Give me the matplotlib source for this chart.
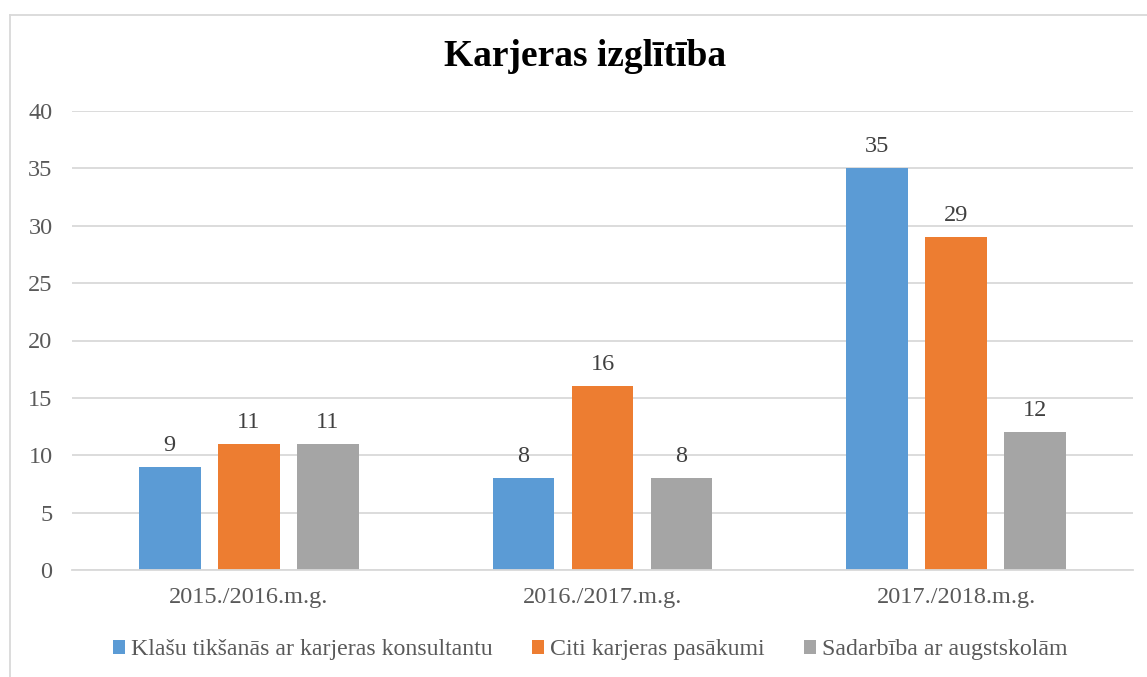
import matplotlib
matplotlib.use("Agg")
import matplotlib.pyplot as plt
from matplotlib.lines import Line2D
from matplotlib.patches import Patch
import numpy as np

categories = ["2015./2016.m.g.", "2016./2017.m.g.", "2017./2018.m.g."]
series_names = ["Klašu tikšanās ar karjeras konsultantu", "Citi karjeras pasākumi", "Sadarbība ar augstskolām"]
klasu = [9, 8, 35]
citi = [11, 16, 29]
sadarbiba = [11, 8, 12]
colors = ["#5B9BD5", "#ED7D31", "#A5A5A5"]
title = "Karjeras izglītība"

plt.rcParams['font.family'] = ['Liberation Serif', 'DejaVu Serif']
W, H = 1147, 677
fig = plt.figure(figsize=(W/100, H/100), dpi=100)
ax = fig.add_axes([72/W, 1-570/H, (1133-72)/W, (570-111)/H])

x = np.arange(len(categories))
off = 0.2235
bw = 0.175
txt = "#595959"
for i, (vals, c) in enumerate(zip([klasu, citi, sadarbiba], colors)):
    bars = ax.bar(x + (i-1)*off, vals, width=bw, color=c, zorder=3)
    for b, v in zip(bars, vals):
        ax.annotate(str(v), (b.get_x()+b.get_width()/2, v), xytext=(0, 8),
                    textcoords="offset points", ha="center", va="bottom",
                    fontsize=17.5, color="#404040")

ax.set_xlim(-0.5, 2.5)
ax.set_ylim(0, 40)
ax.set_yticks(range(0, 41, 5))
ax.set_xticks(x)
ax.set_xticklabels(categories)
ax.tick_params(axis='both', length=0, labelsize=17.5, labelcolor=txt)
ax.tick_params(axis='y', pad=14)
ax.tick_params(axis='x', pad=12)
ax.grid(axis='y', color="#D9D9D9", linewidth=1.3, zorder=0)
for s in ["left", "right", "top"]:
    ax.spines[s].set_visible(False)
ax.spines["bottom"].set_color("#D9D9D9")
ax.spines["bottom"].set_linewidth(1.3)
ax.spines["bottom"].set_zorder(4)

fig.text(585/W, 1-57/H, title, ha="center", va="center", fontsize=27,
         fontweight="bold", color="black")

handles = [Patch(facecolor=c, edgecolor='none') for c in colors]
fig.legend(handles, series_names, loc="center", bbox_to_anchor=(590/W, 1-650/H),
           ncol=3, frameon=False, fontsize=17.2, labelcolor=txt,
           handlelength=0.5, handleheight=0.5, handletextpad=0.25, columnspacing=1.65)

fig.add_artist(Line2D([10/W, 10/W], [0, 1-15/H], color="#D9D9D9", lw=1.3, transform=fig.transFigure))
fig.add_artist(Line2D([10/W, 1], [1-15/H, 1-15/H], color="#D9D9D9", lw=1.3, transform=fig.transFigure))

fig.savefig("out.png", dpi=100)
